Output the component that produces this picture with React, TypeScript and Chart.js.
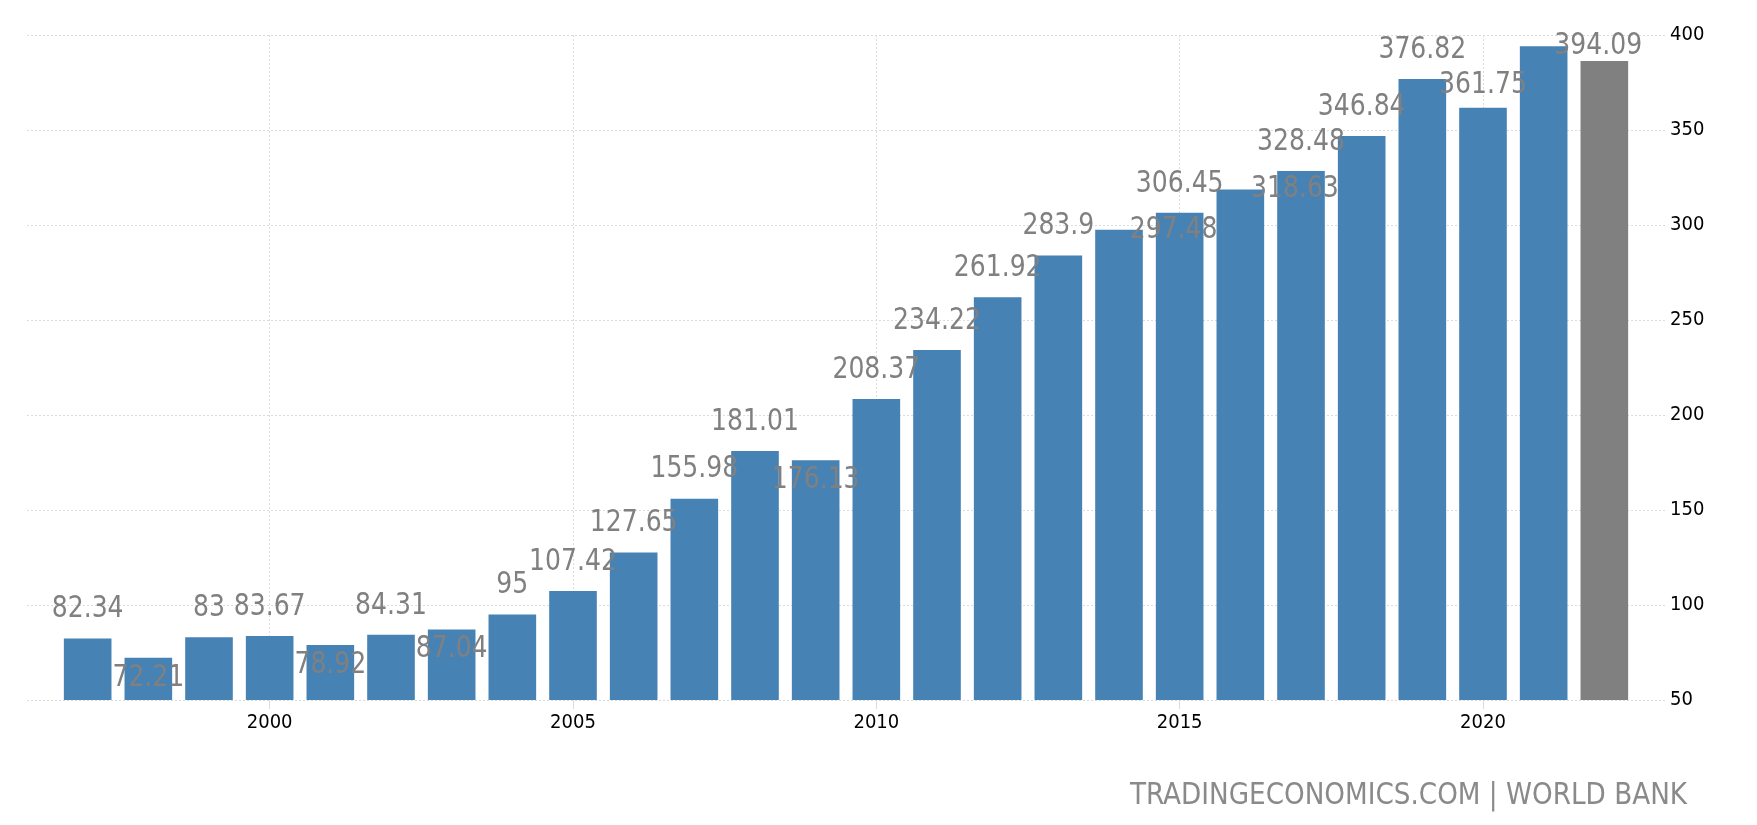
import { useEffect, useRef } from 'react';
import Chart from 'chart.js/auto';

// Yearly values, 1997-2022 (last bar is the grey one)
const years = [
  1997, 1998, 1999, 2000, 2001, 2002, 2003, 2004, 2005, 2006, 2007, 2008, 2009,
  2010, 2011, 2012, 2013, 2014, 2015, 2016, 2017, 2018, 2019, 2020, 2021, 2022,
];
const values = [
  82.34, 72.21, 83, 83.67, 78.92, 84.31, 87.04, 95, 107.42, 127.65, 155.98, 181.01, 176.13,
  208.37, 234.22, 261.92, 283.9, 297.48, 306.45, 318.63, 328.48, 346.84, 376.82, 361.75, 394.09, 386.3,
];
const xTickYears = [2000, 2005, 2010, 2015, 2020];
const yMin = 50;
const yMax = 400;
const yStep = 50;
const sourceText = 'TRADINGECONOMICS.COM | WORLD BANK';

// where each value label sits relative to its bar
const labelPlacement = [
  'top', 'inside', 'top', 'top', 'inside', 'top', 'inside', 'top', 'top', 'top', 'top', 'top', 'inside',
  'top', 'top', 'top', 'top', 'right', 'top', 'right', 'top', 'top', 'top', 'low', 'right', 'none',
];

const FONT = "'DejaVu Sans Condensed', 'DejaVu Sans', sans-serif";
const BLUE = '#4682b4';
const GREY = '#808080';
const GRID = '#dcdcdc';

const valueLabels = {
  id: 'valueLabels',
  afterDatasetsDraw(chart: Chart) {
    const { ctx } = chart;
    const x = chart.scales.x;
    const y = chart.scales.y;
    ctx.save();
    ctx.font = `30px ${FONT}`;
    ctx.fillStyle = GREY;
    ctx.textAlign = 'center';
    ctx.textBaseline = 'middle';
    values.forEach((v, i) => {
      const place = labelPlacement[i];
      if (place === 'none') return;
      let px = x.getPixelForValue(years[i]);
      let py = y.getPixelForValue(v);
      if (place === 'top') py -= 29;
      else if (place === 'low') py -= 22;
      else if (place === 'inside') py += 20;
      else if (place === 'right') px = x.getPixelForValue(years[i] + 0.9);
      // slightly narrowed digits, like the original label font
      ctx.save();
      ctx.translate(px, py);
      ctx.scale(0.93, 1);
      ctx.fillText(String(v), 0, 0);
      ctx.restore();
    });
    ctx.restore();
  },
};

const sourceLabel = {
  id: 'sourceLabel',
  afterDraw(chart: Chart) {
    const { ctx } = chart;
    ctx.save();
    ctx.font = `31px ${FONT}`;
    ctx.fillStyle = '#8a8a8a';
    ctx.textAlign = 'right';
    ctx.textBaseline = 'middle';
    ctx.fillText(sourceText, chart.width - 70, 796, 557);
    ctx.restore();
  },
};

export default function App() {
  const chartRef = useRef<HTMLCanvasElement>(null);
  const chartInstance = useRef<Chart | null>(null);

  useEffect(() => {
    if (!chartRef.current) return;
    if (chartInstance.current) {
      chartInstance.current.destroy();
    }
    const ctx = chartRef.current.getContext('2d');
    if (!ctx) return;

    chartInstance.current = new Chart(ctx, {
      type: 'bar',
      data: {
        datasets: [
          {
            data: years.map((yr, i) => ({ x: yr, y: values[i] })),
            backgroundColor: years.map((_, i) => (i === years.length - 1 ? GREY : BLUE)),
            borderWidth: 0,
            barPercentage: 0.785,
            categoryPercentage: 1,
          },
        ],
      },
      options: {
        animation: false,
        responsive: true,
        maintainAspectRatio: false,
        layout: { padding: { left: 27, top: 35, right: 0, bottom: 0 } },
        plugins: {
          legend: { display: false },
          tooltip: { enabled: false },
        },
        scales: {
          x: {
            type: 'linear',
            min: 1996,
            max: 2023,
            offset: false,
            afterBuildTicks: (axis: any) => {
              axis.ticks = xTickYears.map((v) => ({ value: v }));
            },
            afterFit: (axis: any) => {
              axis.height = 125;
            },
            grid: { color: GRID, tickLength: 9, drawTicks: true, offset: false },
            border: { display: false, dash: [2, 2] },
            ticks: {
              color: '#000',
              font: { family: FONT, size: 20 },
              padding: 2,
              maxRotation: 0,
              callback: (v: any) => String(v),
            },
          },
          y: {
            position: 'right',
            min: yMin,
            max: yMax,
            afterFit: (axis: any) => {
              axis.width = 92;
            },
            grid: { color: GRID, drawTicks: false },
            border: { display: false, dash: [2, 2] },
            ticks: {
              stepSize: yStep,
              color: '#000',
              font: { family: FONT, size: 20 },
              padding: 5,
            },
          },
        },
      },
      plugins: [valueLabels, sourceLabel],
    });

    return () => {
      if (chartInstance.current) {
        chartInstance.current.destroy();
        chartInstance.current = null;
      }
    };
  }, []);

  return (
    <div style={{ position: 'fixed', left: 0, top: 0, width: 1757, height: 825, background: '#fff' }}>
      <canvas ref={chartRef} />
    </div>
  );
}
